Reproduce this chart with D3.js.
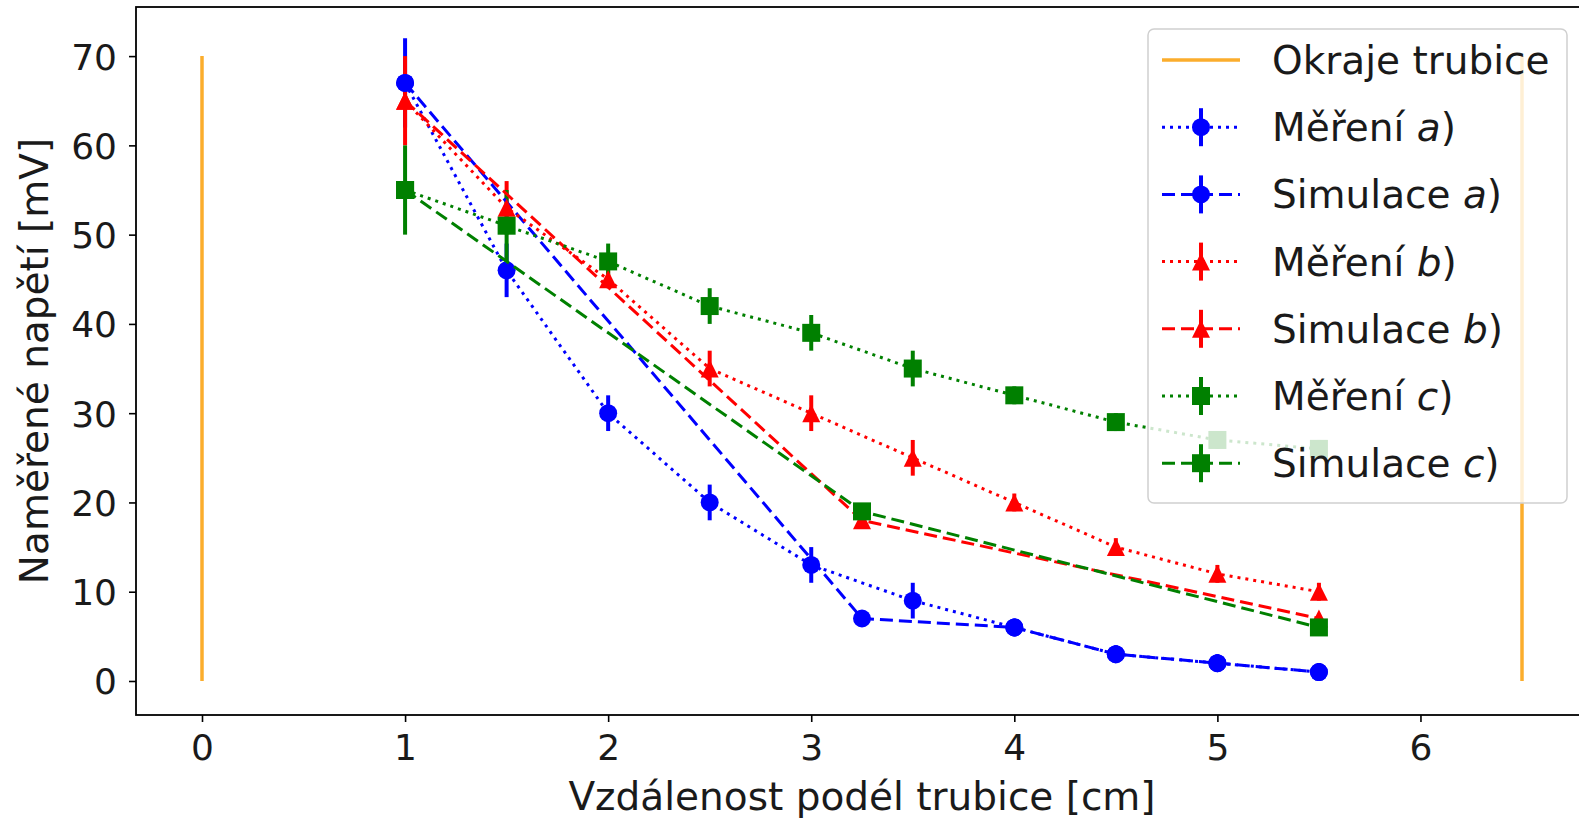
<!DOCTYPE html>
<html>
<head>
<meta charset="utf-8">
<script src="https://cdn.jsdelivr.net/npm/d3@7"></script>
<style>
  html, body { margin: 0; padding: 0; background: #fff; overflow: hidden; }
  svg { display: block; font-family: "DejaVu Sans", sans-serif; }
</style>
</head>
<body>
<div id="chart"></div>
<script>
// --- data ---
const X_MEAS = [1, 1.5, 2, 2.5, 3, 3.5, 4, 4.5, 5, 5.5];
const MEAS_A = [67, 46, 30, 20, 13, 9, 6, 3, 2, 1];
const ERR_A  = [5, 3, 2, 2, 2, 2, 1, 1, 1, 1];
const MEAS_B = [65, 53, 45, 35, 30, 25, 20, 15, 12, 10];
const ERR_B  = [5, 3, 1, 2, 2, 2, 1, 1, 1, 1];
const MEAS_C = [55, 51, 47, 42, 39, 35, 32, 29, 27, 26];
const ERR_C  = [5, 4, 2, 2, 2, 2, 1, 1, 1, 1];

const X_SIM_A = [1, 3.25, 4, 4.5, 5, 5.5];
const SIM_A   = [67, 7, 6, 3, 2, 1];
const X_SIM   = [1, 3.25, 5.5];
const SIM_B   = [65, 18, 7];
const SIM_C   = [55, 19, 6];

const EDGE_X = [0, 6.5];
const EDGE_Y = [0, 70];

const X_TICKS = [0, 1, 2, 3, 4, 5, 6];
const Y_TICKS = [0, 10, 20, 30, 40, 50, 60, 70];

const SERIES = [
  { label: 'Měření', tag: 'a', x: X_MEAS, y: MEAS_A, err: ERR_A, color: '#0000ff', style: 'dot', marker: 'circle' },
  { label: 'Simulace', tag: 'a', x: X_SIM_A, y: SIM_A, err: null, color: '#0000ff', style: 'dash', marker: 'circle' },
  { label: 'Měření', tag: 'b', x: X_MEAS, y: MEAS_B, err: ERR_B, color: '#ff0000', style: 'dot', marker: 'triangle' },
  { label: 'Simulace', tag: 'b', x: X_SIM, y: SIM_B, err: null, color: '#ff0000', style: 'dash', marker: 'triangle' },
  { label: 'Měření', tag: 'c', x: X_MEAS, y: MEAS_C, err: ERR_C, color: '#008000', style: 'dot', marker: 'square' },
  { label: 'Simulace', tag: 'c', x: X_SIM, y: SIM_C, err: null, color: '#008000', style: 'dash', marker: 'square' },
];

const ORANGE = '#fbad2c';
const DASH = { dot: '3,5', dash: '13,6' };

// marker shapes (pixel units, centred on 0,0)
function markerPath(kind) {
  const r = 9;
  if (kind === 'circle') return d3.symbol(d3.symbolCircle, Math.PI * r * r)();
  if (kind === 'square') return `M${-r},${-r}H${r}V${r}H${-r}Z`;
  return `M0,${-r}L${r},${r}L${-r},${r}Z`;
}

const W = 1579, H = 823;
const margin = { left: 136, top: 7, right: 1588, bottom: 715 };

const svg = d3.select('#chart').append('svg')
  .attr('width', W).attr('height', H);

const x = d3.scaleLinear().domain([-0.325, 6.825]).range([margin.left, margin.right]);
const y = d3.scaleLinear().domain([-3.81, 75.5]).range([margin.bottom, margin.top]);

// Axes
const xAxis = svg.append('g')
  .attr('transform', `translate(0,${margin.bottom})`)
  .call(d3.axisBottom(x).tickValues(X_TICKS).tickFormat(d3.format('d')).tickSize(7).tickPadding(12));
const yAxis = svg.append('g')
  .attr('transform', `translate(${margin.left},0)`)
  .call(d3.axisLeft(y).tickValues(Y_TICKS).tickFormat(d3.format('d')).tickSize(7).tickPadding(12));

[xAxis, yAxis].forEach(a => {
  a.select('.domain').remove();
  a.selectAll('.tick line').attr('stroke', '#000').attr('stroke-width', 1.6);
  a.selectAll('.tick text')
    .attr('fill', '#1a1a1a')
    .style('font-size', '36px')
    .style('font-family', '"DejaVu Sans", sans-serif');
});
yAxis.selectAll('.tick text').attr('dy', '0.36em');

// Frame (right side falls outside the picture)
svg.append('rect')
  .attr('x', margin.left).attr('y', margin.top)
  .attr('width', margin.right - margin.left).attr('height', margin.bottom - margin.top)
  .attr('fill', 'none').attr('stroke', '#000').attr('stroke-width', 1.8);

// Axis labels
svg.append('text')
  .attr('x', (margin.left + margin.right) / 2).attr('y', 810)
  .attr('text-anchor', 'middle')
  .style('font-size', '39px').attr('fill', '#1a1a1a')
  .text('Vzdálenost podél trubice [cm]');

svg.append('text')
  .attr('transform', `translate(48,${(margin.top + margin.bottom) / 2}) rotate(-90)`)
  .attr('text-anchor', 'middle')
  .style('font-size', '39px').attr('fill', '#1a1a1a')
  .text('Naměřené napětí [mV]');

const plot = svg.append('g');

// Tube edges
EDGE_X.forEach(ex => {
  plot.append('line')
    .attr('x1', x(ex)).attr('x2', x(ex))
    .attr('y1', y(EDGE_Y[0])).attr('y2', y(EDGE_Y[1]))
    .attr('stroke', ORANGE).attr('stroke-width', 3.5);
});

// Error bars go under all lines and markers
SERIES.forEach(s => {
  if (!s.err) return;
  plot.selectAll(null)
    .data(s.x.map((xv, i) => ({ x: xv, y: s.y[i], e: s.err[i] })))
    .enter().append('line')
    .attr('x1', d => x(d.x)).attr('x2', d => x(d.x))
    .attr('y1', d => y(d.y - d.e)).attr('y2', d => y(d.y + d.e))
    .attr('stroke', s.color).attr('stroke-width', 4);
});

const line = d3.line().x(d => x(d[0])).y(d => y(d[1]));

SERIES.forEach(s => {
  const pts = s.x.map((xv, i) => [xv, s.y[i]]);
  plot.append('path')
    .attr('d', line(pts))
    .attr('fill', 'none')
    .attr('stroke', s.color)
    .attr('stroke-width', 3)
    .attr('stroke-dasharray', DASH[s.style]);
  plot.selectAll(null)
    .data(pts).enter().append('path')
    .attr('d', markerPath(s.marker))
    .attr('transform', d => `translate(${x(d[0])},${y(d[1])})`)
    .attr('fill', s.color);
});

// Legend
const lg = svg.append('g');
lg.append('rect')
  .attr('x', 1148).attr('y', 29).attr('width', 419).attr('height', 474)
  .attr('rx', 6)
  .attr('fill', '#fff').attr('fill-opacity', 0.8)
  .attr('stroke', '#d0d0d0').attr('stroke-width', 1.5);

const rowY = i => 60 + i * 67.2;
const hx0 = 1162, hx1 = 1240, hxm = 1201, tx = 1272;

lg.append('line')
  .attr('x1', hx0).attr('x2', hx1).attr('y1', rowY(0)).attr('y2', rowY(0))
  .attr('stroke', ORANGE).attr('stroke-width', 3.5);
lg.append('text')
  .attr('x', tx).attr('y', rowY(0)).attr('dy', '0.36em')
  .style('font-size', '39px').attr('fill', '#1a1a1a')
  .text('Okraje trubice');

SERIES.forEach((s, i) => {
  const yy = rowY(i + 1);
  lg.append('line')
    .attr('x1', hx0).attr('x2', hx1).attr('y1', yy).attr('y2', yy)
    .attr('stroke', s.color).attr('stroke-width', 3)
    .attr('stroke-dasharray', DASH[s.style]);
  lg.append('line')
    .attr('x1', hxm).attr('x2', hxm).attr('y1', yy - 19).attr('y2', yy + 19)
    .attr('stroke', s.color).attr('stroke-width', 4);
  lg.append('path')
    .attr('d', markerPath(s.marker))
    .attr('transform', `translate(${hxm},${yy})`)
    .attr('fill', s.color);
  const t = lg.append('text')
    .attr('x', tx).attr('y', yy).attr('dy', '0.36em')
    .style('font-size', '39px').attr('fill', '#1a1a1a');
  t.append('tspan').text(s.label + ' ');
  t.append('tspan').style('font-style', 'italic').text(s.tag);
  t.append('tspan').text(')');
});
</script>
</body>
</html>
